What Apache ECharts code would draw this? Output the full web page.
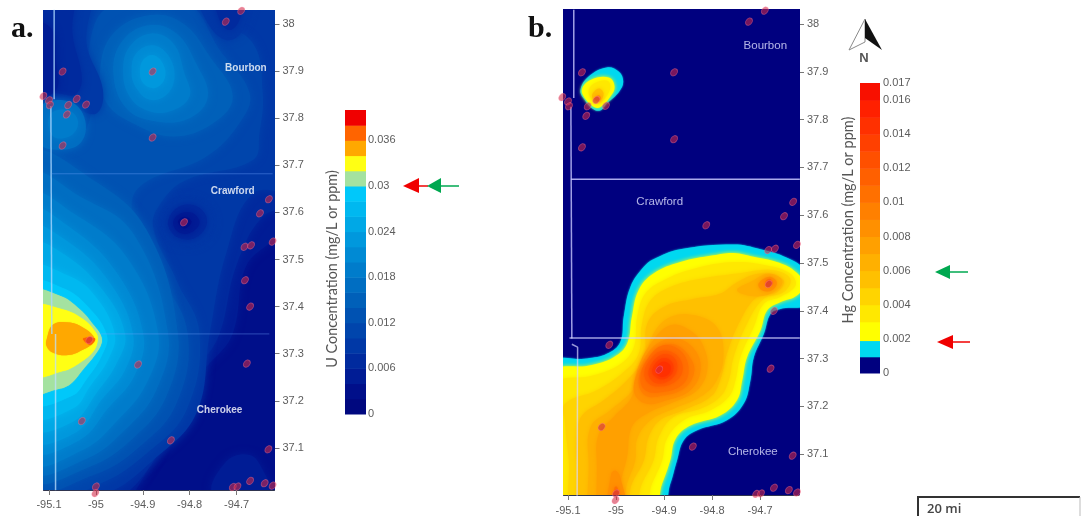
<!DOCTYPE html>
<html><head><meta charset="utf-8">
<style>html,body{margin:0;padding:0;background:#fff}#c{width:1081px;height:516px}</style>
<script src="https://cdn.jsdelivr.net/npm/echarts@6/dist/echarts.min.js"></script>
</head><body><div id="c"></div>
<script>
// ---------- shared readings ----------
const lonTicks = [-95.1,-95,-94.9,-94.8,-94.7];
const latTicks = [37.1,37.2,37.3,37.4,37.5,37.6,37.7,37.8,37.9,38];
const sites = [[-94.69,38.028],[-94.723,38.005],[-95.071,37.899],[-94.879,37.899],[-95.112,37.847],[-95.1,37.838],[-95.098,37.828],
[-95.059,37.828],[-95.041,37.841],[-95.021,37.829],[-95.062,37.808],[-95.071,37.742],[-94.879,37.759],[-94.631,37.628],[-94.65,37.598],
[-94.812,37.579],[-94.683,37.527],[-94.669,37.53],[-94.623,37.538],[-94.682,37.456],[-94.671,37.4],[-95.014,37.329],[-94.91,37.277],
[-94.678,37.279],[-95.03,37.157],[-94.84,37.116],[-94.632,37.097],[-95,37.018],[-95.001,37.004],[-94.708,37.017],[-94.698,37.018],
[-94.671,37.03],[-94.64,37.025],[-94.623,37.02]];
const countiesA = [["Bourbon",-94.68,37.906],["Crawford",-94.708,37.644],["Cherokee",-94.736,37.179]];
const countiesB = [["Bourbon",-94.689,37.954],["Crawford",-94.909,37.628],["Cherokee",-94.715,37.105]];

// ---------- panel a: uranium contours, [lon,lat] rings ----------
const uBase=[[-95.3,36.8],[-94.4,36.8],[-94.4,38.2],[-95.3,38.2]];
const u004=[[-95.133,38.086],[-94.4,38.086],[-94.566,37.598],[-94.623,37.541],[-94.68,37.485],[-94.708,37.343],[-94.757,37.28],[-94.818,37.223],[-94.843,37.145],[-94.885,37.06],[-94.956,36.975],[-95.133,36.961]];
const u006=[[-95.133,38.086],[-94.4,38.086],[-94.566,37.626],[-94.644,37.591],[-94.701,37.485],[-94.736,37.343],[-94.779,37.272],[-94.835,37.18],[-94.871,37.081],[-94.963,36.989],[-95.133,36.968]];
const u008=[[-95.133,38.086],[-94.4,38.086],[-94.566,37.655],[-94.665,37.64],[-94.722,37.513],[-94.757,37.343],[-94.786,37.173],[-94.878,37.074],[-94.977,37.004],[-95.133,36.975]];
const u010=[[-95.133,38.086],[-94.772,38.086],[-94.75,38.016],[-94.665,37.959],[-94.644,37.853],[-94.651,37.768],[-94.665,37.711],[-94.807,37.669],[-94.857,37.626],[-94.878,37.57],[-94.828,37.456],[-94.779,37.343],[-94.807,37.18],[-94.892,37.088],[-94.991,37.024],[-95.133,36.989]];
const u012=[[-95.133,37.771],[-95.041,37.754],[-95.006,37.839],[-95.013,37.959],[-94.97,38.037],[-94.807,38.044],[-94.736,37.945],[-94.672,37.853],[-94.694,37.789],[-94.765,37.718],[-94.906,37.655],[-94.921,37.591],[-94.864,37.471],[-94.804,37.343],[-94.828,37.195],[-94.906,37.103],[-95.006,37.042],[-95.133,37.021]];
const u014=[[-95.133,37.718],[-95.006,37.669],[-94.892,37.563],[-94.825,37.343],[-94.85,37.209],[-94.921,37.12],[-95.013,37.06],[-95.133,37.039]];
const u016=[[-95.133,37.676],[-95.034,37.634],[-94.921,37.556],[-94.846,37.343],[-94.871,37.223],[-94.938,37.138],[-95.02,37.077],[-95.133,37.056]];
const u018=[[-95.133,37.634],[-95.048,37.598],[-94.935,37.506],[-94.867,37.343],[-94.892,37.237],[-94.956,37.156],[-95.027,37.096],[-95.133,37.074]];
const u020=[[-95.133,37.602],[-95.062,37.573],[-94.96,37.478],[-94.899,37.343],[-94.917,37.255],[-94.974,37.184],[-95.034,37.117],[-95.133,37.099]];
const u022=[[-95.133,37.566],[-95.07,37.545],[-94.977,37.46],[-94.921,37.343],[-94.938,37.265],[-94.988,37.202],[-95.041,37.134],[-95.133,37.12]];
const u024=[[-95.133,37.531],[-95.077,37.517],[-94.991,37.442],[-94.938,37.343],[-94.956,37.279],[-94.999,37.216],[-95.048,37.156],[-95.133,37.145]];
const u026=[[-95.133,37.481],[-95.062,37.467],[-95.006,37.428],[-94.96,37.343],[-94.974,37.287],[-95.013,37.23],[-95.048,37.184],[-95.133,37.17]];
const u028=[[-95.133,37.449],[-95.07,37.439],[-95.02,37.403],[-94.977,37.34],[-94.988,37.295],[-95.02,37.246],[-95.052,37.21],[-95.133,37.198]];
const u030=[[-95.133,37.43],[-95.077,37.423],[-95.034,37.394],[-95.004,37.36],[-94.99,37.34],[-94.988,37.322],[-95.002,37.297],[-95.027,37.267],[-95.055,37.235],[-95.084,37.224],[-95.133,37.219]];
const u032=[[-95.133,37.398],[-95.07,37.394],[-95.027,37.373],[-95,37.345],[-94.996,37.33],[-95.004,37.307],[-95.034,37.281],[-95.07,37.263],[-95.133,37.256]];
const u034=[[-95.105,37.33],[-95.091,37.362],[-95.055,37.366],[-95.027,37.355],[-95.006,37.338],[-95.004,37.325],[-95.027,37.309],[-95.059,37.297],[-95.091,37.302],[-95.105,37.316]];
const u036=[[-95.027,37.332],[-95.002,37.332],[-95.009,37.32],[-95.018,37.321]];
const uPeak014=[[-94.991,37.902],[-94.963,37.98],[-94.885,38.019],[-94.814,38.001],[-94.757,37.931],[-94.708,37.846],[-94.75,37.789],[-94.835,37.761],[-94.921,37.789],[-94.977,37.832]];
const uPeak016=[[-94.963,37.899],[-94.942,37.966],[-94.885,37.998],[-94.828,37.98],[-94.786,37.916],[-94.761,37.846],[-94.8,37.8],[-94.871,37.793],[-94.935,37.821]];
const uPeak018=[[-94.942,37.899],[-94.928,37.952],[-94.882,37.98],[-94.835,37.959],[-94.811,37.895],[-94.8,37.846],[-94.843,37.814],[-94.892,37.817],[-94.928,37.846]];
const uPeak020=[[-94.924,37.899],[-94.914,37.938],[-94.879,37.955],[-94.846,37.934],[-94.832,37.888],[-94.85,37.849],[-94.885,37.839],[-94.914,37.864]];
const uPeak022=[[-94.906,37.899],[-94.899,37.924],[-94.878,37.934],[-94.857,37.916],[-94.853,37.885],[-94.874,37.864],[-94.899,37.874]];
const uNW008=[[-95.133,38.086],[-95.013,38.086],[-95.02,37.959],[-94.985,37.86],[-94.999,37.81],[-95.048,37.825],[-95.098,37.846],[-95.133,37.839]];
const uNW006=[[-95.133,38.086],[-95.05,38.086],[-95.05,37.98],[-95.03,37.885],[-95.045,37.85],[-95.085,37.853],[-95.133,37.846]];
const uNW004=[[-95.133,38],[-95.095,37.99],[-95.085,37.92],[-95.085,37.86],[-95.133,37.85]];
const uNE008=[[-94.786,38.086],[-94.765,38.008],[-94.722,37.966],[-94.687,37.987],[-94.672,38.086]];
const uNE006=[[-94.743,38.065],[-94.736,38.008],[-94.715,37.987],[-94.694,38.008],[-94.687,38.065]];
const uLow008=[[-94.857,37.584],[-94.835,37.619],[-94.8,37.63],[-94.761,37.609],[-94.75,37.57],[-94.779,37.534],[-94.821,37.531],[-94.85,37.548]];
const uLow006=[[-94.846,37.58],[-94.828,37.609],[-94.796,37.616],[-94.768,37.598],[-94.765,37.57],[-94.79,37.545],[-94.821,37.545],[-94.839,37.559]];
const uLow004=[[-94.835,37.58],[-94.818,37.598],[-94.793,37.598],[-94.779,37.577],[-94.8,37.556],[-94.825,37.559]];
const uLow002=[[-94.825,37.58],[-94.811,37.591],[-94.796,37.58],[-94.811,37.566]];
const uSE004=[[-94.75,37.004],[-94.722,37.071],[-94.672,37.085],[-94.644,37.053],[-94.63,37.004]];
const uWest016=[[-95.119,37.824],[-95.055,37.835],[-95.023,37.796],[-95.034,37.746],[-95.084,37.733],[-95.119,37.747]];
const uWest018=[[-95.098,37.807],[-95.059,37.817],[-95.038,37.793],[-95.052,37.764],[-95.091,37.761]];
const uContours=[[.002,uBase],[.004,u004],[.006,u006],[.008,u008],[.01,u010],[.012,u012],
 [.014,uPeak014],[.016,uPeak016],[.018,uPeak018],[.02,uPeak020],[.022,uPeak022],
 [.008,uNW008],[.006,uNW006],[.004,uNW004],[.008,uNE008],[.006,uNE006],
 [.008,uLow008],[.006,uLow006],[.004,uLow004],[.002,uLow002],[.004,uSE004],
 [.014,u014],[.016,u016],[.016,uWest016],[.018,uWest018],[.018,u018],[.02,u020],[.022,u022],[.024,u024],[.026,u026],[.028,u028],[.03,u030],[.032,u032],[.034,u034],[.036,u036]];
const uBandEdges=[0,.002,.004,.006,.008,.01,.012,.014,.016,.018,.02,.022,.024,.026,.028,.03,.032,.034,.036,.038,.04];
const uBandColors=['#00087f','#000f8a','#001c95','#002a9e','#0038a6','#0045ac','#0052b2','#0060b9','#006ec2','#007ccb','#008ad4','#0098dd','#00a8e6','#00b8f0','#00c8fa','#a4e2a0','#ffff14','#ffa800','#ff6400','#f00000'];
const uTickValues=[0,.006,.012,.018,.024,.03,.036];
const uTickLabels=['0','0.006','0.012','0.018','0.024','0.03','0.036'];
const uBoundaryW1=[[-95.089,38.03],[-95.089,37.84]];
const uBoundaryW2=[[-95.096,37.826],[-95.094,37.342]];
const uBoundaryW3=[[-95.086,37.342],[-95.086,37.01]];
const uBoundaryN=[[-95.094,37.682],[-94.623,37.682]];
const uBoundaryS=[[-94.99,37.342],[-94.63,37.342]];

// ---------- panel b: mercury contours, [lon,lat] rings ----------
const hgBase=[[-95.3,36.8],[-94.4,36.8],[-94.4,38.2],[-95.3,38.2]];
const hg001=[[-95.13,37.289],[-95.06,37.3],[-95.019,37.31],[-94.991,37.335],[-94.984,37.387],[-94.97,37.45],[-94.942,37.492],[-94.922,37.508],[-94.866,37.529],[-94.755,37.539],[-94.699,37.529],[-94.644,37.511],[-94.609,37.485],[-94.602,37.415],[-94.658,37.404],[-94.678,37.394],[-94.692,37.352],[-94.713,37.303],[-94.72,37.255],[-94.734,37.206],[-94.769,37.171],[-94.831,37.15],[-94.859,37.129],[-94.873,37.087],[-94.887,37.038],[-94.908,36.983],[-95.13,36.955]];
const hg002=[[-95.13,37.268],[-95.053,37.286],[-95.005,37.303],[-94.977,37.331],[-94.967,37.387],[-94.953,37.443],[-94.922,37.478],[-94.866,37.502],[-94.797,37.516],[-94.755,37.521],[-94.713,37.513],[-94.665,37.502],[-94.63,37.485],[-94.609,37.457],[-94.623,37.432],[-94.658,37.418],[-94.685,37.401],[-94.699,37.359],[-94.727,37.303],[-94.737,37.255],[-94.748,37.213],[-94.783,37.181],[-94.845,37.16],[-94.876,37.132],[-94.887,37.087],[-94.904,37.038],[-94.925,36.983],[-95.13,36.955]];
const hg003=[[-95.13,37.244],[-95.047,37.265],[-94.991,37.289],[-94.963,37.324],[-94.956,37.387],[-94.939,37.436],[-94.901,37.464],[-94.838,37.488],[-94.755,37.502],[-94.685,37.495],[-94.637,37.478],[-94.626,37.453],[-94.658,37.429],[-94.692,37.415],[-94.713,37.366],[-94.741,37.303],[-94.751,37.255],[-94.765,37.22],[-94.803,37.192],[-94.859,37.171],[-94.894,37.132],[-94.904,37.087],[-94.925,37.038],[-94.946,36.983],[-95.109,36.955],[-95.135,37.1]];
const hg004=[[-95.106,37.206],[-95.04,37.234],[-94.984,37.272],[-94.953,37.31],[-94.946,37.373],[-94.928,37.422],[-94.887,37.45],[-94.824,37.467],[-94.748,37.478],[-94.672,37.485],[-94.637,37.467],[-94.651,37.439],[-94.692,37.425],[-94.727,37.373],[-94.755,37.303],[-94.765,37.255],[-94.783,37.22],[-94.824,37.195],[-94.88,37.178],[-94.911,37.136],[-94.922,37.087],[-94.946,37.038],[-94.967,36.983],[-95.085,36.955],[-95.099,37.094],[-95.106,37.164]];
const hg005=[[-95.071,37.181],[-95.026,37.213],[-94.977,37.255],[-94.942,37.303],[-94.935,37.373],[-94.901,37.408],[-94.838,37.425],[-94.783,37.436],[-94.748,37.46],[-94.699,37.478],[-94.651,37.464],[-94.665,37.439],[-94.706,37.429],[-94.741,37.38],[-94.769,37.31],[-94.783,37.255],[-94.803,37.22],[-94.859,37.192],[-94.908,37.171],[-94.932,37.136],[-94.942,37.087],[-94.967,37.038],[-94.984,36.983],[-95.067,36.955],[-95.081,37.08],[-95.081,37.143]];
const hg006=[[-95.053,37.157],[-95.012,37.192],[-94.963,37.237],[-94.942,37.289],[-94.922,37.352],[-94.887,37.387],[-94.838,37.391],[-94.79,37.366],[-94.776,37.31],[-94.79,37.255],[-94.824,37.22],[-94.88,37.195],[-94.928,37.171],[-94.956,37.132],[-94.96,37.087],[-94.977,37.038],[-94.991,36.983],[-95.05,36.955],[-95.057,37.08]];
const hg007=[[-95.036,37.143],[-95.005,37.178],[-94.967,37.22],[-94.956,37.275],[-94.928,37.331],[-94.887,37.37],[-94.845,37.359],[-94.817,37.324],[-94.81,37.275],[-94.831,37.234],[-94.88,37.209],[-94.935,37.185],[-94.967,37.157],[-94.977,37.094],[-94.991,37.038],[-94.998,36.983],[-95.033,36.955],[-95.04,37.08]];
const hg008=[[-94.963,37.234],[-94.946,37.289],[-94.915,37.331],[-94.873,37.342],[-94.835,37.317],[-94.824,37.275],[-94.845,37.234],[-94.894,37.213],[-94.939,37.206]];
const hg009=[[-94.953,37.255],[-94.935,37.296],[-94.908,37.324],[-94.873,37.328],[-94.842,37.296],[-94.838,37.268],[-94.859,37.237],[-94.901,37.223],[-94.939,37.223]];
const hg010=[[-94.949,37.262],[-94.932,37.303],[-94.901,37.328],[-94.866,37.317],[-94.849,37.282],[-94.859,37.248],[-94.901,37.23],[-94.939,37.234]];
const hg011=[[-94.941,37.272],[-94.925,37.303],[-94.901,37.317],[-94.873,37.307],[-94.861,37.279],[-94.873,37.255],[-94.904,37.242],[-94.932,37.248]];
const hg012=[[-94.932,37.275],[-94.908,37.307],[-94.88,37.303],[-94.873,37.275],[-94.894,37.251],[-94.922,37.251]];
const hg013=[[-94.925,37.275],[-94.906,37.3],[-94.885,37.295],[-94.881,37.274],[-94.897,37.258],[-94.915,37.26]];
const hg014=[[-94.918,37.275],[-94.904,37.293],[-94.887,37.286],[-94.89,37.268],[-94.908,37.262]];
const hgEast006=[[-94.748,37.443],[-94.713,37.464],[-94.682,37.478],[-94.654,37.464],[-94.665,37.443],[-94.706,37.43]];
const hgEast008=[[-94.703,37.457],[-94.682,37.471],[-94.665,37.46],[-94.675,37.443],[-94.696,37.443]];
const hgEast010=[[-94.689,37.46],[-94.68,37.467],[-94.673,37.458],[-94.682,37.45]];
const hgSouth008=[[-95.015,36.983],[-95.01,37.059],[-95.001,37.066],[-94.991,37.052],[-94.981,36.983]];
const hgSouth010=[[-95.006,36.983],[-95.003,37.031],[-94.997,37.031],[-94.991,36.983]];
const hgNW001=[[-95.074,37.862],[-95.057,37.89],[-95.019,37.909],[-94.994,37.9],[-94.985,37.879],[-94.994,37.858],[-95.019,37.834],[-95.033,37.819],[-95.05,37.824],[-95.067,37.844]];
const hgNW002=[[-95.071,37.863],[-95.053,37.883],[-95.015,37.888],[-95.003,37.869],[-95.012,37.848],[-95.033,37.826],[-95.045,37.826],[-95.062,37.841]];
const hgNW003=[[-95.057,37.862],[-95.043,37.877],[-95.017,37.881],[-95.012,37.865],[-95.026,37.841],[-95.038,37.833],[-95.052,37.844]];
const hgNW005=[[-95.05,37.851],[-95.036,37.865],[-95.026,37.855],[-95.033,37.838],[-95.043,37.838]];
const hgNW008=[[-95.045,37.844],[-95.036,37.851],[-95.031,37.844],[-95.038,37.838]];
const hgContours=[[0,hgBase],[.001,hg001],[.002,hg002],[.003,hg003],[.004,hg004],[.005,hg005],[.006,hg006],[.007,hg007],
 [.006,hgEast006],[.008,hgEast008],[.01,hgEast010],[.008,hgSouth008],[.01,hgSouth010],
 [.008,hg008],[.009,hg009],[.01,hg010],[.011,hg011],[.012,hg012],[.013,hg013],[.014,hg014],
 [.001,hgNW001],[.002,hgNW002],[.003,hgNW003],[.005,hgNW005],[.008,hgNW008]];
const hgBandEdges=[0,.00095,.0019,.003,.004,.005,.006,.007,.008,.009,.01,.011,.012,.013,.014,.015,.016,.017];
const hgBandColors=['#00007f','#00d8f0','#ffff00','#ffe800','#ffd400','#ffc000','#ffb000','#ffa000','#ff9000','#ff8000','#ff7000','#ff6000','#ff5000','#ff4000','#ff3000','#ff2000','#f81000'];
const hgTickValues=[0,.002,.004,.006,.008,.01,.012,.014,.016,.017];
const hgTickLabels=['0','0.002','0.004','0.006','0.008','0.01','0.012','0.014','0.016','0.017'];
const hgBoundaryW1=[[-95.088,38.03],[-95.088,37.845]];
const hgBoundaryW2=[[-95.094,37.827],[-95.092,37.342]];
const hgBoundaryW3=[[-95.092,37.33],[-95.08,37.324],[-95.081,37.01]];
const hgBoundaryN=[[-95.094,37.675],[-94.617,37.675]];
const hgBoundaryS=[[-95.097,37.343],[-94.617,37.343]];

// ---------- chart ----------
const font='"Liberation Sans",Arial,sans-serif';
const gray='#5c5c5c';
function colorFor(level,edges,colors){let k=0;for(let i=0;i<edges.length-1;i++){if(level>=edges[i]-1e-6)k=i;}return colors[k];}
function contourSeries(contours,axis,edges,colors,blurFor){
  return {type:'custom',xAxisIndex:axis,yAxisIndex:axis,clip:true,silent:true,z:1,
    data:contours.map((c,i)=>[i]),encode:{x:-1,y:-1},
    renderItem:(p,api)=>{const c=contours[p.dataIndex];const col=colorFor(c[0],edges,colors);
      return {type:'polygon',shape:{points:c[1].map(q=>api.coord(q)),smooth:0.4},style:{fill:col,shadowBlur:blurFor(c[0]),shadowColor:col}};}};
}
function barSeries(axis,edges,colors){
  return {type:'custom',xAxisIndex:axis,yAxisIndex:axis,silent:true,z:1,
    data:colors.map((c,i)=>[0,edges[i],1,edges[i+1]]),
    encode:{x:[0,2],y:[1,3]},
    renderItem:(p,api)=>{const a=api.coord([0,api.value(1)]),b=api.coord([1,api.value(3)]);
      return {type:'rect',shape:{x:a[0],y:b[1],width:b[0]-a[0],height:a[1]-b[1]+0.5},style:{fill:colors[p.dataIndex]}};}};
}
function boundary(data,axis,color,w){return {type:'line',xAxisIndex:axis,yAxisIndex:axis,data,showSymbol:false,silent:true,z:3,lineStyle:{color,width:w},animation:false};}
function marks(axis){return {type:'scatter',xAxisIndex:axis,yAxisIndex:axis,data:sites,clip:false,silent:true,z:5,symbol:'circle',symbolSize:[8,6],symbolRotate:50,
  itemStyle:{color:'rgba(208,40,70,.72)',borderColor:'rgba(255,120,150,.5)',borderWidth:1}};}
function labels(list,axis,color,weight,size){return {type:'scatter',xAxisIndex:axis,yAxisIndex:axis,silent:true,z:6,symbolSize:0,
  data:list.map(c=>({name:c[0],value:[c[1],c[2]]})),
  label:{show:true,position:'inside',formatter:'{b}',color,fontSize:size,fontWeight:weight,fontFamily:font}};}
function mapX(i,min,max,gap){return {gridIndex:i,type:'value',min,max,splitLine:{show:false},
  axisLine:{show:true,onZero:false,lineStyle:{color:'#30354f',width:1}},axisTick:{show:true,length:5,lineStyle:{color:'#777'},customValues:lonTicks},
  axisLabel:{customValues:lonTicks,margin:gap,color:gray,fontSize:11,fontFamily:font,formatter:v=>String(v)}};}
function mapY(i,min,max){return {gridIndex:i,type:'value',position:'right',min,max,splitLine:{show:false},
  axisLine:{show:false},axisTick:{show:true,length:5,lineStyle:{color:'#777'},customValues:latTicks},
  axisLabel:{customValues:latTicks,margin:8,color:gray,fontSize:11,fontFamily:font,formatter:v=>String(v)}};}
function barX(i){return {gridIndex:i,type:'value',min:0,max:1,show:false};}
function barY(i,max,vals,txt,gap){return {gridIndex:i,type:'value',position:'right',min:0,max,splitLine:{show:false},
  axisLine:{show:false},axisTick:{show:false},
  axisLabel:{customValues:vals,margin:gap,color:gray,fontSize:11,fontFamily:font,
    formatter:v=>{let k=vals.findIndex(x=>Math.abs(x-v)<1e-7);return k<0?'':txt[k];}}};}

const chart=echarts.init(document.getElementById('c'),null,{renderer:'canvas'});
const ann=(o)=>Object.assign({silent:true},o);
chart.setOption({
  animation:false,backgroundColor:'#fff',
  grid:[
    {left:43.5,top:10,width:231,height:480},
    {left:345,top:110,width:21,height:304},
    {left:563.5,top:9,width:235.5,height:486},
    {left:860,top:83,width:20,height:290}
  ],
  xAxis:[mapX(0,-95.1117,-94.619,9),barX(1),mapX(2,-95.1094,-94.6188,10),barX(3)],
  yAxis:[mapY(0,37.0106,38.0297),barY(1,.04,uTickValues,uTickLabels,2),mapY(2,37.0147,38.0314),barY(3,.017,hgTickValues,hgTickLabels,3)],
  series:[
    contourSeries(uContours,0,uBandEdges,uBandColors,l=>l>=.028?1:8),
    boundary(uBoundaryW1,0,'rgba(170,215,255,.8)',1.5),
    boundary(uBoundaryW2,0,'rgba(170,215,255,.8)',1.5),
    boundary(uBoundaryW3,0,'rgba(190,225,255,.75)',1.5),
    boundary(uBoundaryN,0,'rgba(110,165,255,.4)',1),
    boundary(uBoundaryS,0,'rgba(110,165,255,.4)',1),
    marks(0),labels(countiesA,0,'#fff','bold',10),
    barSeries(1,uBandEdges,uBandColors),
    contourSeries(hgContours,2,hgBandEdges,hgBandColors,l=>l<.002?2:4),
    boundary(hgBoundaryW1,2,'rgba(200,200,255,.8)',1.5),
    boundary(hgBoundaryW2,2,'rgba(200,200,255,.8)',1.5),
    boundary(hgBoundaryW3,2,'rgba(215,215,255,.7)',1.5),
    boundary(hgBoundaryN,2,'rgba(200,200,255,.85)',1.5),
    boundary(hgBoundaryS,2,'rgba(215,215,255,.75)',1.5),
    marks(2),labels(countiesB,2,'#dfe0ff','normal',11.5),
    barSeries(3,hgBandEdges,hgBandColors)
  ],
  graphic:[
    ann({type:'text',x:11,y:14,style:{text:'a.',font:'bold 30px "Liberation Serif",serif',fill:'#111'}}),
    ann({type:'text',x:528,y:14,style:{text:'b.',font:'bold 30px "Liberation Serif",serif',fill:'#111'}}),
    ann({type:'text',x:332,y:269,rotation:Math.PI/2,style:{text:'U Concentration (mg/L or ppm)',font:'14.4px Lato,sans-serif',fill:'#555',align:'center',verticalAlign:'middle'}}),
    ann({type:'text',x:848,y:220,rotation:Math.PI/2,style:{text:'Hg Concentration (mg/L or ppm)',font:'14.5px Lato,sans-serif',fill:'#555',align:'center',verticalAlign:'middle'}}),
    // arrows panel a
    ann({type:'line',shape:{x1:417,y1:186,x2:428,y2:186},style:{stroke:'#f00000',lineWidth:1.5}}),
    ann({type:'polygon',shape:{points:[[403,186],[419,178],[419,193]]},style:{fill:'#f00000'}}),
    ann({type:'line',shape:{x1:440,y1:186,x2:459,y2:186},style:{stroke:'#00a850',lineWidth:1.5}}),
    ann({type:'polygon',shape:{points:[[427,186],[441,178],[441,193]]},style:{fill:'#00a850'}}),
    // arrows panel b
    ann({type:'line',shape:{x1:949,y1:272,x2:968,y2:272},style:{stroke:'#00a850',lineWidth:1.5}}),
    ann({type:'polygon',shape:{points:[[935,272],[950,265],[950,279]]},style:{fill:'#00a850'}}),
    ann({type:'line',shape:{x1:952,y1:342,x2:970,y2:342},style:{stroke:'#f00000',lineWidth:1.5}}),
    ann({type:'polygon',shape:{points:[[937,342],[953,335],[953,349]]},style:{fill:'#f00000'}}),
    // north arrow
    ann({type:'polygon',shape:{points:[[865,19],[849,50],[865,42]]},style:{fill:'#fff',stroke:'#8a8a8a',lineWidth:1}}),
    ann({type:'polygon',shape:{points:[[865,19],[882,50],[865,38]]},style:{fill:'#111'}}),
    ann({type:'text',x:864,y:58,style:{text:'N',font:'bold 13px "Liberation Sans",sans-serif',fill:'#555',align:'center',verticalAlign:'middle'}}),
    // scale bar
    ann({type:'polyline',shape:{points:[[918,516],[918,497],[1080,497]]},style:{stroke:'#333',lineWidth:2,fill:null}}),
    ann({type:'line',shape:{x1:1080,y1:497,x2:1080,y2:516},style:{stroke:'#bbb',lineWidth:1}}),
    ann({type:'text',x:927,y:509,style:{text:'20 mi',font:'600 13px "Open Sans",sans-serif',fill:'#444',verticalAlign:'middle'}})
  ]
});
</script></body></html>
